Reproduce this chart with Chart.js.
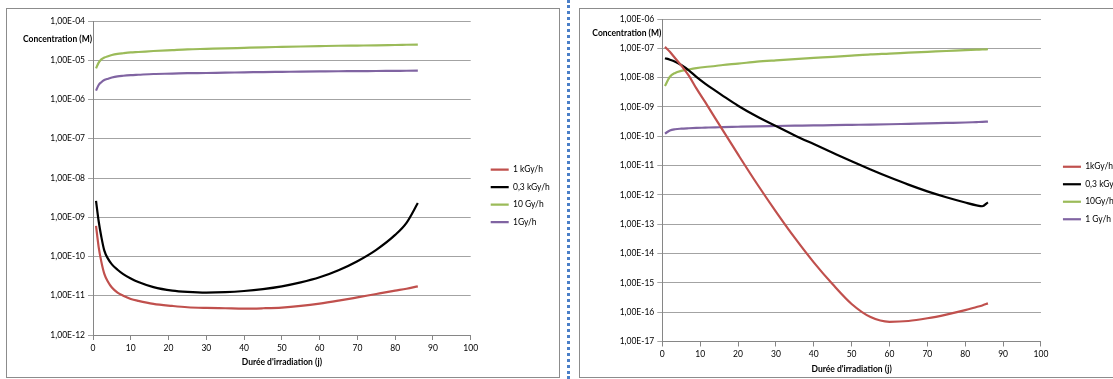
<!DOCTYPE html>
<html>
<head>
<meta charset="utf-8">
<script src="https://cdn.jsdelivr.net/npm/chart.js@4/dist/chart.umd.min.js"></script>
<style>
html, body { margin: 0; padding: 0; background: #fff; overflow: hidden; width: 1113px; height: 379px; }
.box { position: absolute; top: 8px; border: 1px solid #8c8c8c; background: #fff; }
#boxL { left: 6px; width: 552px; height: 368px; }
#boxR { left: 579px; width: 560px; height: 368px; }
#sep { position: absolute; left: 567px; top: 0; height: 379px; border-left: 3px dotted #4a7fc8; }
canvas { display: block; }
</style>
</head>
<body>
<div id="boxL" class="box"><canvas id="chartL" width="552" height="368"></canvas></div>
<div id="sep"></div>
<div id="boxR" class="box"><canvas id="chartR" width="560" height="368"></canvas></div>
<script>
// irradiation time (days) and concentrations (M)
const daysLeft = [0.8, 1.5, 2.2, 3, 4, 5, 6.5, 8, 10, 12, 16, 21, 25, 30, 35, 40, 45, 50, 55, 60, 65, 70, 75, 80, 83, 86];
const left1kGy = [6.0e-10, 1.74e-10, 7.4e-11, 3.6e-11, 2.24e-11, 1.62e-11, 1.2e-11, 1.0e-11, 8.3e-12, 7.4e-12, 6.2e-12, 5.5e-12, 5.1e-12,
                  4.9e-12, 4.8e-12, 4.7e-12, 4.8e-12, 5.0e-12, 5.5e-12, 6.3e-12, 7.5e-12, 9.1e-12, 1.11e-11, 1.35e-11, 1.51e-11, 1.74e-11];
const left03kGy = [2.6e-9, 7.9e-10, 3.2e-10, 1.41e-10, 8.7e-11, 6.3e-11, 4.6e-11, 3.55e-11, 2.75e-11, 2.24e-11, 1.66e-11, 1.35e-11, 1.25e-11,
                   1.2e-11, 1.23e-11, 1.32e-11, 1.48e-11, 1.74e-11, 2.19e-11, 2.95e-11, 4.47e-11, 7.6e-11, 1.48e-10, 3.55e-10, 7.2e-10, 2.3e-9];
const left10Gy = [6.2e-6, 8.7e-6, 1.05e-5, 1.17e-5, 1.27e-5, 1.36e-5, 1.45e-5, 1.51e-5, 1.58e-5, 1.62e-5, 1.72e-5, 1.82e-5, 1.9e-5,
                  1.95e-5, 2.0e-5, 2.07e-5, 2.14e-5, 2.19e-5, 2.24e-5, 2.29e-5, 2.34e-5, 2.37e-5, 2.4e-5, 2.45e-5, 2.48e-5, 2.51e-5];
const left1Gy = [1.68e-6, 2.34e-6, 2.75e-6, 3.13e-6, 3.39e-6, 3.63e-6, 3.89e-6, 4.03e-6, 4.17e-6, 4.27e-6, 4.47e-6, 4.57e-6, 4.68e-6,
                 4.73e-6, 4.84e-6, 4.9e-6, 5.01e-6, 5.07e-6, 5.13e-6, 5.19e-6, 5.25e-6, 5.28e-6, 5.33e-6, 5.37e-6, 5.4e-6, 5.42e-6];
const namesLeft = ['1 kGy/h', '0,3 kGy/h', '10 Gy/h', '1Gy/h'];
const yTicksLeft = [1e-12, 1e-11, 1e-10, 1e-9, 1e-8, 1e-7, 1e-6, 1e-5, 1e-4];
const yLabelsLeft = ['1,00E-12', '1,00E-11', '1,00E-10', '1,00E-09', '1,00E-08', '1,00E-07', '1,00E-06', '1,00E-05', '1,00E-04'];

const daysRight = [0.7, 2, 3.4, 5, 7, 9, 11.3, 14, 16, 20, 25, 30, 35, 40, 45, 50, 55, 60, 65, 70, 75, 80, 83, 84.5, 86];
const right1kGy = [1.12e-7, 7.6e-8, 4.6e-8, 2.6e-8, 1.17e-8, 4.3e-9, 1.48e-9, 4.1e-10, 1.58e-10, 2.4e-11, 2.4e-12, 2.7e-13,
                   3.4e-14, 5.0e-15, 8.9e-16, 1.9e-16, 6.8e-17, 4.7e-17, 5.0e-17, 6.2e-17, 8.3e-17, 1.17e-16, 1.5e-16, 1.7e-16, 2.0e-16];
const right03kGy = [4.6e-8, 4.1e-8, 3.5e-8, 2.7e-8, 1.78e-8, 1.07e-8, 6.3e-9, 3.6e-9, 2.4e-9, 1.1e-9, 4.7e-10, 2.24e-10,
                    1.07e-10, 5.4e-11, 2.75e-11, 1.41e-11, 7.4e-12, 4.0e-12, 2.24e-12, 1.32e-12, 8.3e-13, 5.5e-13, 4.4e-13, 4.1e-13, 5.6e-13];
const right10Gy = [5.2e-9, 1.07e-8, 1.45e-8, 1.7e-8, 1.9e-8, 2.1e-8, 2.3e-8, 2.5e-8, 2.7e-8, 3.0e-8, 3.5e-8, 3.9e-8,
                   4.3e-8, 4.7e-8, 5.1e-8, 5.6e-8, 6.2e-8, 6.6e-8, 7.1e-8, 7.6e-8, 8.1e-8, 8.7e-8, 9.0e-8, 9.1e-8, 9.3e-8];
const right1Gy = [1.23e-10, 1.58e-10, 1.74e-10, 1.82e-10, 1.88e-10, 1.93e-10, 1.97e-10, 2.02e-10, 2.04e-10, 2.11e-10, 2.19e-10, 2.24e-10,
                  2.29e-10, 2.34e-10, 2.4e-10, 2.45e-10, 2.5e-10, 2.57e-10, 2.66e-10, 2.75e-10, 2.85e-10, 2.95e-10, 3.05e-10, 3.1e-10, 3.16e-10];
const namesRight = ['1kGy/h', '0,3 kGy/h', '10Gy/h', '1 Gy/h'];
const yTicksRight = [1e-17, 1e-16, 1e-15, 1e-14, 1e-13, 1e-12, 1e-11, 1e-10, 1e-9, 1e-8, 1e-7, 1e-6];
const yLabelsRight = ['1,00E-17', '1,00E-16', '1,00E-15', '1,00E-14', '1,00E-13', '1,00E-12', '1,00E-11', '1,00E-10',
                      '1,00E-09', '1,00E-08', '1,00E-07', '1,00E-06'];

const xTicks = [0, 10, 20, 30, 40, 50, 60, 70, 80, 90, 100];
const COLORS = ['#C0504D', '#000000', '#9BBB59', '#8064A2'];
const Y_TITLE = 'Concentration (M)';
const X_TITLE = "Durée d'irradiation (j)";
const FONT = 'Lato, "Liberation Sans", sans-serif';
const FS = 8.5;

Chart.defaults.font.family = FONT;
Chart.defaults.font.size = FS;
Chart.defaults.color = '#000';

// horizontal axis caption next to the top ticks (Excel style)
const yTitlePlugin = {
  id: 'yTitle',
  afterDraw(chart) {
    var s = chart.scales.y;
    var ctx = chart.ctx;
    ctx.save();
    ctx.font = 'bold ' + FS + 'px ' + FONT;
    ctx.fillStyle = '#000';
    ctx.textAlign = 'right';
    ctx.textBaseline = 'middle';
    ctx.fillText(Y_TITLE, chart.chartArea.left - 1, s.getPixelForValue(s.max / 3));
    ctx.restore();
  }
};

function makeChart(id, c) {
  return new Chart(document.getElementById(id), {
    type: 'line',
    data: {
      labels: c.days,
      datasets: c.names.map(function(n, i) {
        return {
          label: n,
          data: c.series[i],
          borderColor: COLORS[i],
          backgroundColor: COLORS[i],
          borderWidth: 2.2,
          pointRadius: 0,
          cubicInterpolationMode: 'monotone',
          fill: false
        };
      })
    },
    options: {
      responsive: false,
      animation: false,
      devicePixelRatio: 1,
      layout: { padding: { top: c.padTop, bottom: c.padBottom, left: 0, right: c.padRight } },
      plugins: {
        tooltip: { enabled: false },
        legend: {
          position: 'right',
          align: 'center',
          maxWidth: c.legendWidth,
          labels: {
            usePointStyle: true,
            pointStyle: 'line',
            pointStyleWidth: 18,
            padding: 9,
            color: '#000',
            font: { size: FS }
          }
        }
      },
      scales: {
        x: {
          type: 'linear',
          min: 0,
          max: 100,
          afterBuildTicks: function(s) { s.ticks = xTicks.map(function(v) { return { value: v }; }); },
          ticks: { padding: 3, maxRotation: 0, autoSkip: false, color: '#000' },
          grid: { drawOnChartArea: false, tickLength: 5, color: '#868686' },
          border: { color: '#868686' },
          title: { display: true, text: X_TITLE, color: '#000', font: { weight: 'bold', size: FS }, padding: { top: 0, bottom: c.titlePad } },
          afterFit: function(s) { s.height = c.xHeight; }
        },
        y: {
          type: 'logarithmic',
          min: c.yTicks[0],
          max: c.yTicks[c.yTicks.length - 1],
          afterBuildTicks: function(s) { s.ticks = c.yTicks.map(function(v) { return { value: v }; }); },
          ticks: { padding: 3, autoSkip: false, color: '#000', callback: function(v, i) { return c.yLabels[i]; } },
          grid: { color: '#a3a3a3', tickLength: 5 },
          border: { color: '#868686' },
          afterFit: function(s) { s.width = c.yWidth; }
        },
        gap: {
          type: 'linear',
          position: 'right',
          grid: { display: false },
          border: { display: false },
          ticks: { display: false },
          afterFit: function(s) { s.width = c.gap; }
        }
      }
    },
    plugins: [yTitlePlugin]
  });
}

makeChart('chartL', {
  days: daysLeft,
  series: [left1kGy, left03kGy, left10Gy, left1Gy],
  names: namesLeft,
  yTicks: yTicksLeft,
  yLabels: yLabelsLeft,
  padTop: 12, padBottom: 6.4, padRight: 0, legendWidth: 77.3,
  xHeight: 35.6, titlePad: 2.8,
  yWidth: 86, gap: 11
});

makeChart('chartR', {
  days: daysRight,
  series: [right1kGy, right03kGy, right10Gy, right1Gy],
  names: namesRight,
  yTicks: yTicksRight,
  yLabels: yLabelsRight,
  padTop: 10, padBottom: 10, padRight: 8, legendWidth: 79,
  xHeight: 25.5, titlePad: -7.1,
  yWidth: 82.3, gap: 13
});
</script>
</body>
</html>
